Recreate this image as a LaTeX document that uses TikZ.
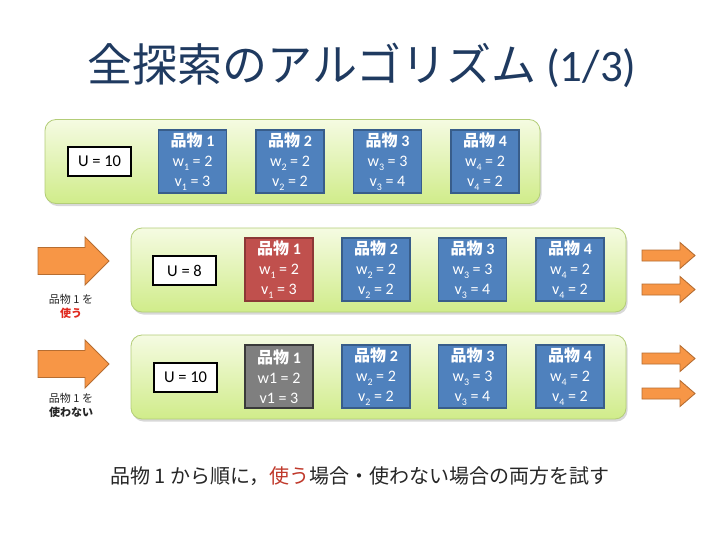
\documentclass[tikz,border=0pt]{standalone}
\usepackage{fontspec}
\setmainfont{Carlito}
\newfontfamily\jp{Noto Sans CJK JP}
\usetikzlibrary{shadows}
\definecolor{titleink}{HTML}{1F3A60}
\definecolor{textink}{HTML}{262626}
\definecolor{itemblue}{HTML}{4F81BD}
\definecolor{itemblueline}{HTML}{385D8A}
\definecolor{itemred}{HTML}{C0504D}
\definecolor{itemredline}{HTML}{8C3836}
\definecolor{itemgray}{HTML}{7F7F7F}
\definecolor{itemgrayline}{HTML}{3A3A3A}
\definecolor{panelline}{HTML}{B3CD78}
\definecolor{paneltop}{HTML}{F5FBE2}
\definecolor{panelbot}{HTML}{D0EC8A}
\definecolor{arrowfill}{HTML}{F79646}
\definecolor{arrowline}{HTML}{B66D31}
\definecolor{usered}{HTML}{E02A20}
\definecolor{textred}{HTML}{C0392B}
\tikzset{
  panel/.style={draw=panelline,line width=0.8pt,rounded corners=11pt,
                top color=paneltop,bottom color=panelbot,
                minimum width=495pt,minimum height=84pt,
                drop shadow={opacity=0.3,shadow xshift=1.5pt,shadow yshift=-2.5pt}},
  goods/.style={draw=itemblueline,fill=itemblue,line width=1.2pt,text=white,
                align=center,minimum width=68pt,minimum height=63pt,
                inner sep=0pt,font=\fontsize{16}{20}\selectfont},
  redgoods/.style={goods,draw=itemredline,fill=itemred},
  graygoods/.style={goods,draw=itemgrayline,fill=itemgray},
  capbox/.style={draw=black,fill=white,line width=1.5pt,
                 minimum width=63pt,minimum height=29pt,inner sep=0pt,
                 font=\fontsize{16.5}{18}\selectfont},
  fatarrow/.style={draw=arrowline,fill=arrowfill,line width=0.9pt},
  note/.style={align=center,text=textink,font=\jp\fontsize{11}{14}\selectfont}
}
% item card: number, weight, value
\newcommand\lowsub[1]{\raisebox{-0.45ex}{\fontsize{10}{10}\selectfont #1}}
\newcommand\goodstext[3]{{\jp\bfseries 品物} \textbf{#1}\\
  w\lowsub{#1} = #2\\ v\lowsub{#1} = #3}
% big arrow: left end x, centre y
\newcommand\bigarrow[2]{\draw[fatarrow] (#1,#2-13.5) -- ++(47,0) -- ++(0,-10.5)
  -- ++(24,24) -- ++(-24,24) -- ++(0,-10.5) -- ++(-47,0) -- cycle;}
% small arrow: left end x, centre y
\newcommand\smallarrow[2]{\draw[fatarrow] (#1,#2-5.5) -- ++(38,0) -- ++(0,-7.5)
  -- ++(15,13) -- ++(-15,13) -- ++(0,-7.5) -- ++(-38,0) -- cycle;}
\begin{document}
\begin{tikzpicture}[x=1pt,y=-1pt]
  \useasboundingbox[fill=white] (0,0) rectangle (728,546);

  % title
  \node[text=titleink,font=\fontsize{45}{50}\selectfont] (title) at (362,65)
    {{\jp 全探索のアルゴリズム} (1/3)};

  % initial state
  \node[panel] (start) at (292.5,161.5) {};
  \node[capbox] (start-u) at (99.5,161.5) {U = 10};
  \node[goods] (start-1) at (192.5,161.5) {\goodstext{1}{2}{3}};
  \node[goods] (start-2) at (290,161.5) {\goodstext{2}{2}{2}};
  \node[goods] (start-3) at (387.5,161.5) {\goodstext{3}{3}{4}};
  \node[goods] (start-4) at (485,161.5) {\goodstext{4}{2}{2}};

  % item 1 used
  \bigarrow{38}{261}
  \node[note] (use-note) at (71,306)
    {品物 1 を\\{\bfseries\color{usered}使う}};
  \node[panel] (use) at (378.5,270) {};
  \node[capbox] (use-u) at (184.5,270.5) {U = 8};
  \node[redgoods] (use-1) at (279,269.5) {\goodstext{1}{2}{3}};
  \node[goods] (use-2) at (376,269.5) {\goodstext{2}{2}{2}};
  \node[goods] (use-3) at (472.5,269.5) {\goodstext{3}{3}{4}};
  \node[goods] (use-4) at (570,269.5) {\goodstext{4}{2}{2}};
  \smallarrow{642}{255.5}
  \smallarrow{642}{289.5}

  % item 1 not used
  \bigarrow{38}{364}
  \node[note] (skip-note) at (71,405)
    {品物 1 を\\{\bfseries 使わない}};
  \node[panel] (skip) at (378.5,377) {};
  \node[capbox] (skip-u) at (185.5,377.5) {U = 10};
  \node[graygoods] (skip-1) at (279,376.5)
    {{\jp\bfseries 品物} \textbf{1}\\ w1 = 2\\ v1 = 3};
  \node[goods] (skip-2) at (376,376.5) {\goodstext{2}{2}{2}};
  \node[goods] (skip-3) at (472.5,376.5) {\goodstext{3}{3}{4}};
  \node[goods] (skip-4) at (570,376.5) {\goodstext{4}{2}{2}};
  \smallarrow{642}{358.5}
  \smallarrow{642}{393.5}

  % summary line
  \node[text=textink,font=\jp\fontsize{20}{24}\selectfont] (summary) at (360,476)
    {品物 1 から順に，\textcolor{textred}{使う}場合・使わない場合の両方を試す};
\end{tikzpicture}
\end{document}
